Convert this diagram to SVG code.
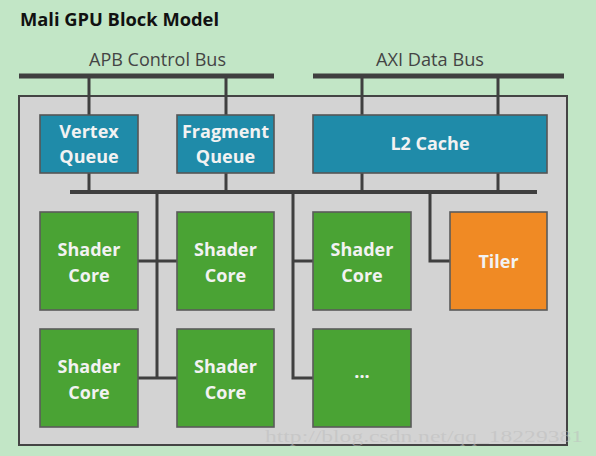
<svg xmlns="http://www.w3.org/2000/svg" width="596" height="456" viewBox="0 0 596 456">
<style>
.bus{stroke:#3f3f3f;stroke-width:5;fill:none}
.wire{stroke:#3f3f3f;stroke-width:3;fill:none}
.q{fill:#1f8ba9;stroke:#555;stroke-width:1.6}
.sc{fill:#4aa334;stroke:#5a5a5a;stroke-width:1.6}
.tl{fill:#f08a24;stroke:#5a5a5a;stroke-width:1.6}
.nt{font-family:"Open Sans","Noto Sans",sans-serif;font-weight:bold;font-size:18px;fill:#f2f2f2;text-anchor:middle}
.bl{font-family:"Open Sans","Noto Sans",sans-serif;font-size:18px;fill:#444;text-anchor:middle}
</style>
<rect x="0" y="0" width="596" height="456" fill="#c2e6c6"/>
<text x="20" y="26" font-family="'Open Sans','Noto Sans',sans-serif" font-weight="bold" font-size="18" fill="#111" textLength="199" lengthAdjust="spacingAndGlyphs">Mali GPU Block Model</text>
<rect id="gpu" x="19" y="96" width="548" height="349" fill="#d3d3d3" stroke="#444" stroke-width="2"/>
<g id="connectors">
<line class="bus" x1="19" y1="76" x2="274" y2="76"/>
<line class="bus" x1="313" y1="76" x2="564" y2="76"/>
<line class="wire" x1="89" y1="76" x2="89" y2="115"/>
<line class="wire" x1="226" y1="76" x2="226" y2="115"/>
<line class="wire" x1="362" y1="76" x2="362" y2="115"/>
<line class="wire" x1="498" y1="76" x2="498" y2="115"/>
<line class="bus" x1="70" y1="192" x2="537" y2="192" style="stroke-width:4"/>
<line class="wire" x1="89" y1="173" x2="89" y2="192"/>
<line class="wire" x1="226" y1="173" x2="226" y2="192"/>
<line class="wire" x1="362" y1="173" x2="362" y2="192"/>
<line class="wire" x1="498" y1="173" x2="498" y2="192"/>
<polyline class="wire" points="157,192 157,378"/>
<line class="wire" x1="138" y1="261" x2="177" y2="261"/>
<line class="wire" x1="138" y1="378" x2="177" y2="378"/>
<polyline class="wire" points="293,192 293,378 313,378"/>
<line class="wire" x1="293" y1="261" x2="313" y2="261"/>
<polyline class="wire" points="430,192 430,261 450,261"/>
</g>
<g id="vertex-queue"><rect class="q" x="40" y="115" width="98" height="58"/><text class="nt" x="89" y="138">Vertex</text><text class="nt" x="89" y="163">Queue</text></g>
<g id="fragment-queue"><rect class="q" x="177" y="115" width="97" height="58"/><text class="nt" x="225.5" y="138">Fragment</text><text class="nt" x="225.5" y="163">Queue</text></g>
<g id="l2-cache"><rect class="q" x="313" y="115" width="234" height="58"/><text class="nt" x="430" y="150">L2 Cache</text></g>
<g id="shader-1"><rect class="sc" x="40" y="212" width="98" height="98"/><text class="nt" x="89" y="256">Shader</text><text class="nt" x="89" y="282">Core</text></g>
<g id="shader-2"><rect class="sc" x="177" y="212" width="97" height="98"/><text class="nt" x="225.5" y="256">Shader</text><text class="nt" x="225.5" y="282">Core</text></g>
<g id="shader-3"><rect class="sc" x="313" y="212" width="98" height="98"/><text class="nt" x="362" y="256">Shader</text><text class="nt" x="362" y="282">Core</text></g>
<g id="tiler"><rect class="tl" x="450" y="212" width="97" height="98"/><text class="nt" x="498.5" y="268">Tiler</text></g>
<g id="shader-4"><rect class="sc" x="40" y="329" width="98" height="98"/><text class="nt" x="89" y="373">Shader</text><text class="nt" x="89" y="399">Core</text></g>
<g id="shader-5"><rect class="sc" x="177" y="329" width="97" height="98"/><text class="nt" x="225.5" y="373">Shader</text><text class="nt" x="225.5" y="399">Core</text></g>
<g id="shader-more"><rect class="sc" x="313" y="329" width="98" height="98"/><text class="nt" x="362" y="378">...</text></g>
<text class="bl" x="157.5" y="66" textLength="137" lengthAdjust="spacingAndGlyphs">APB Control Bus</text>
<text class="bl" x="430" y="66" textLength="108" lengthAdjust="spacingAndGlyphs">AXI Data Bus</text>
<text x="265" y="442" font-family="'Liberation Serif',serif" font-size="17" fill="#bdbdbd" fill-opacity="0.55" textLength="318" lengthAdjust="spacingAndGlyphs">http://blog.csdn.net/qq_18229381</text>
</svg>
